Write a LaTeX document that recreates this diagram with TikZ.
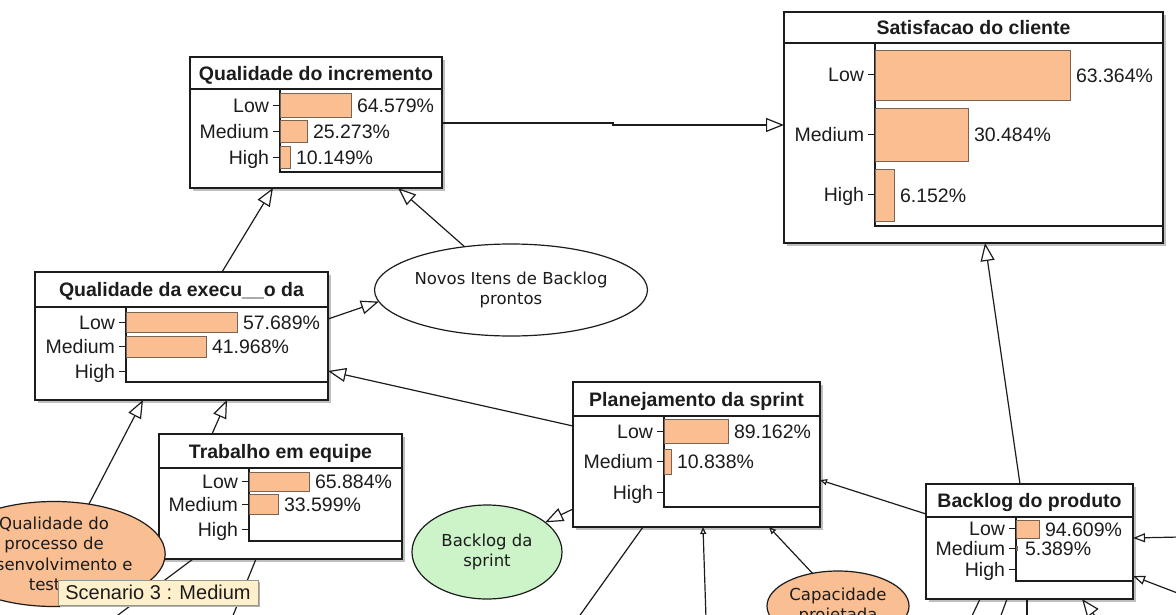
\documentclass[tikz,border=0pt]{standalone}
\usepackage{fontspec}
\setmainfont{Liberation Sans}
\newfontfamily\ellfont{DejaVu Sans}
\usetikzlibrary{arrows.meta,calc,shapes.geometric,shadows}

\definecolor{barfill}{RGB}{251,190,144}
\definecolor{barline}{RGB}{120,100,85}
\definecolor{greenfill}{RGB}{204,244,200}
\definecolor{orangefill}{RGB}{249,190,146}
\definecolor{tipfill}{RGB}{255,240,204}
\definecolor{tipline}{RGB}{150,150,140}
\definecolor{ink}{RGB}{28,28,28}

\tikzset{
  every node/.style={inner sep=0pt, outer sep=0pt, text=ink},
  netbox/.style={draw=ink, line width=1.3pt, fill=white, anchor=north west,
    drop shadow={shadow xshift=2.5pt, shadow yshift=-2.5pt, fill=black!25, opacity=1}},
  boxtitle/.style={anchor=base, font=\bfseries\fontsize{19.5}{22}\selectfont},
  lbl/.style={font=\fontsize{19.5}{22}\selectfont},
  chartline/.style={draw=ink, line width=1.2pt},
  tick/.style={draw=ink, line width=0.9pt},
  barstyle/.style={draw=barline, fill=barfill, line width=1pt},
  chance/.style={ellipse, draw=ink, line width=1.2pt, align=center,
    font=\ellfont\fontsize{16.5}{20.5}\selectfont},
  edge/.style={draw=ink, line width=1.2pt, -{Triangle[open, length=18pt, width=14pt]}},
  smalledge/.style={draw=ink, line width=1.2pt, -{Triangle[open, length=7pt, width=6pt]}},
  plainedge/.style={draw=ink, line width=1.2pt},
  tooltip/.style={draw=tipline, fill=tipfill, line width=1pt,
    font=\fontsize{20}{22}\selectfont,
    drop shadow={shadow xshift=1.5pt, shadow yshift=-1.5pt, fill=black!30, opacity=1}}
}

% label and tick of one state row: axis x, row centre y, label
\newcommand{\staterow}[3]{%
  \node[lbl, anchor=base east] at (#1-11,#2+7) {#3};
  \draw[tick] (#1-7,#2) -- (#1,#2);
}
% probability bar: axis x, row centre y, half height, bar length, value
\newcommand{\statebar}[5]{%
  \draw[barstyle] (#1,#2-#3) rectangle (#1+#4,#2+#3);
  \node[lbl, anchor=base west] at (#1+#4+6,#2+7) {#5};
}
% chart frame inside a node box: axis x, top y, bottom y, right x
\newcommand{\chartframe}[4]{%
  \draw[chartline] (#1,#2) -- (#1,#3) -- (#4,#3);
}

\begin{document}
\begin{tikzpicture}[x=1pt, y=-1pt]
\useasboundingbox (0,0) rectangle (1176,614);
\clip (0,0) rectangle (1176,614);

% ---------- nodes ----------
\node[netbox, minimum width=252pt, minimum height=131pt] (inc) at (190,57) {};
\node[netbox, minimum width=379pt, minimum height=231pt] (sat) at (784,12) {};
\node[netbox, minimum width=293pt, minimum height=128pt] (exe) at (35,272) {};
\node[netbox, minimum width=243pt, minimum height=125pt] (team) at (159,434) {};
\node[netbox, minimum width=247pt, minimum height=145pt] (plan) at (573,382) {};
\node[netbox, minimum width=207pt, minimum height=115pt] (prod) at (926,484) {};

\node[chance, fill=white, minimum width=254pt, minimum height=92pt] (novos) at (511,290) {Novos Itens de Backlog\\prontos};
\node[chance, fill=greenfill, minimum width=150pt, minimum height=94pt] (bsprint) at (487,552) {Backlog da\\sprint};
\node[chance, fill=orangefill, minimum width=142pt, minimum height=70pt] (cap) at (838,606) {Capacidade\\projetada};
\node[chance, fill=orangefill, minimum width=202pt, minimum height=98pt] (qproc) at (54,554) {Qualidade do\\processo de\\desenvolvimento e\\testes};

% ---------- free ends of connectors leaving the view ----------
\coordinate (o1) at (706,618);
\coordinate (o2) at (578,618);
\coordinate (o3) at (114,618);
\coordinate (o4) at (232,618);
\coordinate (o5) at (971,618);
\coordinate (o6) at (1000,618);
\coordinate (o7) at (1027,618);
\coordinate (o8) at (1102,625);
\coordinate (o9) at (1180,537);
\coordinate (o10) at (1180,594);

% ---------- connectors ----------
\draw[edge] ($(inc.north east)+(0,66)$) -- ++(171,0) -- ++(0,2) -- ($(sat.north west)+(0,113)$);
\draw[edge] ($(exe.north west)+(187,0)$) -- ($(inc.south west)+(83,0)$);
\draw[edge] (novos.137) -- ($(inc.south west)+(208,0)$);
\draw[edge] ($(exe.north east)+(0,47)$) -- (novos.185);
\draw[edge] ($(plan.north west)+(0,44)$) -- ($(exe.north east)+(0,99)$);
\draw[edge] (qproc.55) -- ($(exe.south west)+(108,0)$);
\draw[edge] ($(team.north west)+(53,0)$) -- ($(exe.south west)+(192,0)$);
\draw[edge] ($(plan.south west)+(0,-18)$) -- (bsprint.27);
\draw[smalledge] ($(prod.north west)+(0,30)$) -- ($(plan.north east)+(0,98)$);
\draw[edge] ($(prod.north west)+(94,0)$) -- ($(sat.south west)+(201,0)$);
\draw[smalledge] (cap.128) -- ($(plan.south west)+(196,0)$);
\draw[smalledge] (o1) -- ($(plan.south west)+(130,0)$);
\draw[plainedge] ($(plan.south west)+(70,0)$) -- (o2);
\draw[plainedge] ($(team.south west)+(34,0)$) -- (o3);
\draw[plainedge] ($(team.south west)+(97,0)$) -- (o4);
\draw[plainedge] ($(prod.south west)+(54,0)$) -- (o5);
\draw[plainedge] ($(prod.south west)+(81,0)$) -- (o6);
\draw[plainedge] ($(prod.south west)+(101,0)$) -- (o7);
\draw[edge] (o8) -- ($(prod.south west)+(156,0)$);
\draw[draw=ink, line width=1.2pt, -{Triangle[open, length=12pt, width=9pt]}] (o9) -- ($(prod.north east)+(0,54)$);
\draw[draw=ink, line width=1.2pt, -{Triangle[open, length=12pt, width=9pt]}] (o10) -- ($(prod.north east)+(0,92)$);

% ---------- Qualidade do incremento ----------
\draw[chartline] (inc.north west |- 0,89) -- (inc.north east |- 0,89);
\node[boxtitle] at ($(inc.north)+(0,23)$) {Qualidade do incremento};
\chartframe{280}{89}{172}{442}
\staterow{280}{105}{Low}
\staterow{280}{131}{Medium}
\staterow{280}{157}{High}
\statebar{280}{105}{12}{71}{64.579\%}
\statebar{280}{131}{11}{27}{25.273\%}
\statebar{280}{157}{11}{10}{10.149\%}

% ---------- Satisfacao do cliente ----------
\draw[chartline] (sat.north west |- 0,43) -- (sat.north east |- 0,43);
\node[boxtitle] at ($(sat.north)+(0,22.5)$) {Satisfacao do cliente};
\chartframe{875}{43}{226}{1163}
\staterow{875}{74}{Low}
\staterow{875}{134}{Medium}
\staterow{875}{194}{High}
\statebar{875}{75}{25}{195}{63.364\%}
\statebar{875}{134.5}{26.5}{93}{30.484\%}
\statebar{875}{195}{26}{19}{6.152\%}

% ---------- Qualidade da execucao ----------
\draw[chartline] (exe.north west |- 0,307) -- (exe.north east |- 0,307);
\node[boxtitle] at ($(exe.north)+(0,24.5)$) {Qualidade da execu\_\_o da};
\chartframe{126}{307}{382}{328}
\staterow{126}{322}{Low}
\staterow{126}{346}{Medium}
\staterow{126}{371}{High}
\statebar{126}{322}{10}{111}{57.689\%}
\statebar{126}{346.5}{10.5}{80}{41.968\%}

% ---------- Trabalho em equipe ----------
\draw[chartline] (team.north west |- 0,468) -- (team.north east |- 0,468);
\node[boxtitle] at ($(team.north)+(0,24)$) {Trabalho em equipe};
\chartframe{249}{468}{541}{402}
\staterow{249}{481}{Low}
\staterow{249}{504}{Medium}
\staterow{249}{529}{High}
\statebar{249}{481.5}{9.5}{60}{65.884\%}
\statebar{249}{504}{10}{29}{33.599\%}

% ---------- Planejamento da sprint ----------
\draw[chartline] (plan.north west |- 0,416) -- (plan.north east |- 0,416);
\node[boxtitle] at ($(plan.north)+(0,24)$) {Planejamento da sprint};
\chartframe{664}{416}{507}{820}
\staterow{664}{431}{Low}
\staterow{664}{461}{Medium}
\staterow{664}{492}{High}
\statebar{664}{431}{12}{64}{89.162\%}
\statebar{664}{461.5}{12.5}{7}{10.838\%}

% ---------- Backlog do produto ----------
\draw[chartline] (prod.north west |- 0,517) -- (prod.north east |- 0,517);
\node[boxtitle] at ($(prod.north)+(0,23.5)$) {Backlog do produto};
\chartframe{1016}{517}{581}{1133}
\staterow{1016}{528}{Low}
\staterow{1016}{548}{Medium}
\staterow{1016}{569}{High}
\statebar{1016}{529}{9}{23}{94.609\%}
\draw[barstyle] (1016,546) rectangle (1017,550);
\node[lbl, anchor=base west] at (1025,555) {5.389\%};

% ---------- scenario tooltip ----------
\node[tooltip, minimum width=200pt, minimum height=25pt] (scen) at (158,592.5) {Scenario 3 : Medium};

\end{tikzpicture}
\end{document}
